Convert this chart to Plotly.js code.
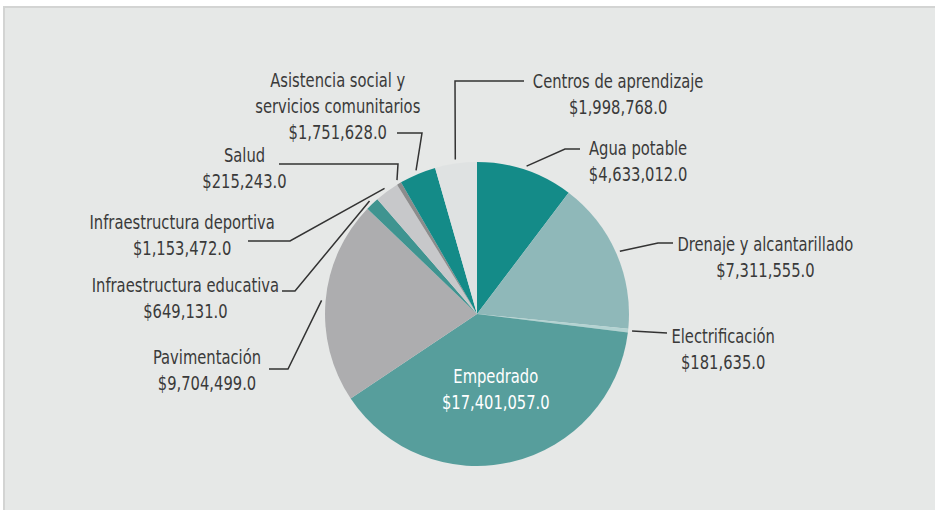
<!DOCTYPE html>
<html>
<head>
<meta charset="utf-8">
<script src="https://cdn.plot.ly/plotly-3.0.1.min.js"></script>
<style>html,body{margin:0;padding:0;background:#fff;}#chart{width:935px;height:510px;}</style>
</head>
<body>
<div id="chart"></div>
<script>
// ---- data ----
const categories = [
  "Agua potable",
  "Drenaje y alcantarillado",
  "Electrificación",
  "Empedrado",
  "Pavimentación",
  "Infraestructura educativa",
  "Infraestructura deportiva",
  "Salud",
  "Asistencia social y<br>servicios comunitarios",
  "Centros de aprendizaje"
];
const values = [4633012, 7311555, 181635, 17401057, 9704499, 649131, 1153472, 215243, 1751628, 1998768];
const valueLabels = ["$4,633,012.0","$7,311,555.0","$181,635.0","$17,401,057.0","$9,704,499.0","$649,131.0","$1,153,472.0","$215,243.0","$1,751,628.0","$1,998,768.0"];
const colors = ["#148b88","#8fb8b9","#b3d3d2","#579e9c","#adadaf","#3f9490","#c7c8ca","#8c8c8c","#148b88","#dfe2e2"];

// ---- layout constants (pixels) ----
const W = 935, H = 510;
const CX = 477, CY = 314, R = 152;
const px = x => x / W;
const py = y => 1 - y / H;

// label block centres and leader-line elbows (pixels)
const labelPos = [
  {x:638, y:161, pts:[[565,149],[580,149]]},
  {x:765, y:257, pts:[[658,243],[673,243]]},
  {x:723, y:349, pts:[[667,333]]},
  {x:496, y:389, inside:true},
  {x:207, y:370, pts:[[288,369],[269,369]]},
  {x:185, y:298, pts:[[295,291],[282,291]]},
  {x:182, y:235, pts:[[290,241],[248,241]]},
  {x:244, y:168, pts:[[398,164],[279,164]]},
  {x:338, y:106, pts:[[422,133],[397,133]]},
  {x:618, y:94,  pts:[[455,81],[524,81]]}
];

const total = values.reduce((a,b)=>a+b,0);
const fontFam = "'Liberation Sans Narrow', 'Arial Narrow', 'DejaVu Sans Condensed', sans-serif";
const NARROW = 0.82;

const annotations = [];
const shapes = [{
  type:'rect', xref:'paper', yref:'paper', layer:'below',
  x0:px(4), x1:px(940), y0:py(7), y1:py(520),
  fillcolor:'#e6e8e7', line:{color:'#d3d4d3', width:2}
}];

let cum = 0;
values.forEach((v,i)=>{
  const mid = (cum + v/2) / total * 2*Math.PI;
  cum += v;
  const lp = labelPos[i];
  annotations.push({
    xref:'paper', yref:'paper', x:px(lp.x), y:py(lp.y),
    xanchor:'center', yanchor:'middle', showarrow:false, align:'center',
    text: categories[i] + '<br>' + valueLabels[i],
    font:{family:fontFam, size:20, color: lp.inside ? '#ffffff' : '#3a3a3a'}
  });
  if (!lp.inside) {
    const sx = CX + (R+4)*Math.sin(mid), sy = CY - (R+4)*Math.cos(mid);
    let d = 'M' + px(sx) + ',' + py(sy);
    lp.pts.forEach(p=>{ d += ' L' + px(p[0]) + ',' + py(p[1]); });
    shapes.push({type:'path', xref:'paper', yref:'paper', path:d, line:{color:'#333333', width:1.5}});
  }
});

const trace = {
  type:'pie', labels:categories, values:values, sort:false, direction:'clockwise', rotation:0,
  marker:{colors:colors, line:{width:0}},
  textinfo:'none', hoverinfo:'label+value', showlegend:false,
  domain:{x:[px(CX-R), px(CX+R)], y:[py(CY+R), py(CY-R)]}
};

Plotly.newPlot('chart', [trace], {
  width:W, height:H, autosize:false,
  margin:{l:0,r:0,t:0,b:0,pad:0},
  paper_bgcolor:'#ffffff', plot_bgcolor:'rgba(0,0,0,0)',
  showlegend:false, annotations:annotations, shapes:shapes
}, {displayModeBar:false, staticPlot:true}).then(()=>{
  // emulate the condensed typeface of the original by narrowing each label horizontally
  document.querySelectorAll('#chart .annotation-text').forEach(t=>{
    const b = t.getBBox();
    const cx = b.x + b.width/2;
    t.setAttribute('transform', 'translate(' + cx + ',0) scale(' + NARROW + ',1) translate(' + (-cx) + ',0)');
  });
});
</script>
</body>
</html>
